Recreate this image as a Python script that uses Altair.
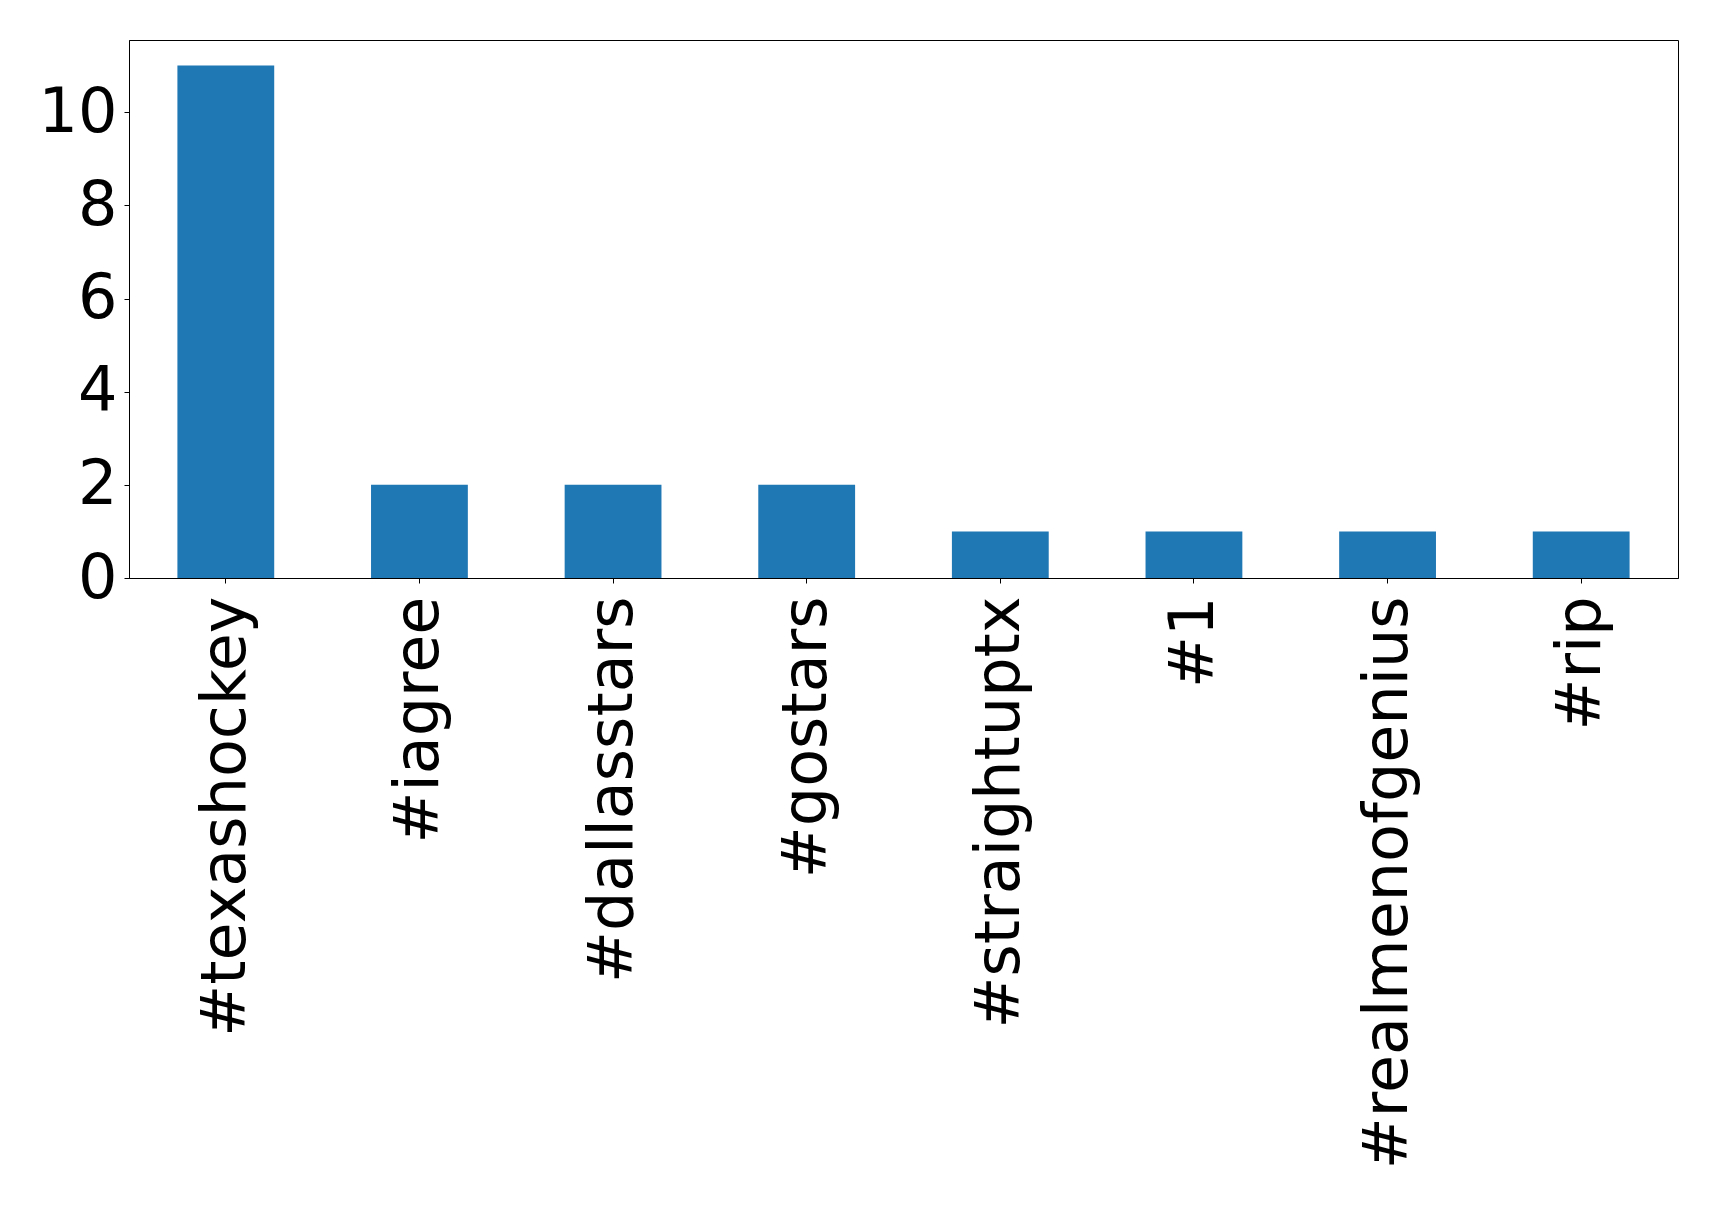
import altair as alt
import pandas as pd

# Hashtag counts
hashtags = ["#texashockey", "#iagree", "#dallasstars", "#gostars",
            "#straightuptx", "#1", "#realmenofgenius", "#rip"]
counts = [11, 2, 2, 2, 1, 1, 1, 1]

df = pd.DataFrame({"hashtag": hashtags, "count": counts})

FONT = "DejaVu Sans"

bars = alt.Chart(df).mark_bar(color="#1f77b4").encode(
    x=alt.X(
        "hashtag:N",
        sort=hashtags,
        title=None,
        scale=alt.Scale(paddingInner=0.5, paddingOuter=0.25),
        axis=alt.Axis(
            labelAngle=-90,
            labelFontSize=62,
            labelFont=FONT,
            labelColor="black",
            labelPadding=13,
            tickSize=5,
            tickColor="black",
            domainColor="black",
            labelLimit=0,
            grid=False,
        ),
    ),
    y=alt.Y(
        "count:Q",
        title=None,
        scale=alt.Scale(domain=[0, 11.55], nice=False, zero=True),
        axis=alt.Axis(
            values=[0, 2, 4, 6, 8, 10],
            labelFontSize=62,
            labelFont=FONT,
            labelColor="black",
            labelPadding=7,
            tickSize=5,
            tickColor="black",
            domainColor="black",
            grid=False,
            labelFlush=False,
        ),
    ),
)

chart = bars.properties(
    width=1549,
    height=538,
    autosize=alt.AutoSizeParams(type="none"),
    padding={"left": 129, "top": 40, "right": 41, "bottom": 627},
    background="white",
).configure_view(
    stroke="black",
    strokeWidth=1,
)

chart.save("out.html", embed_options={"renderer": "svg", "actions": False})
